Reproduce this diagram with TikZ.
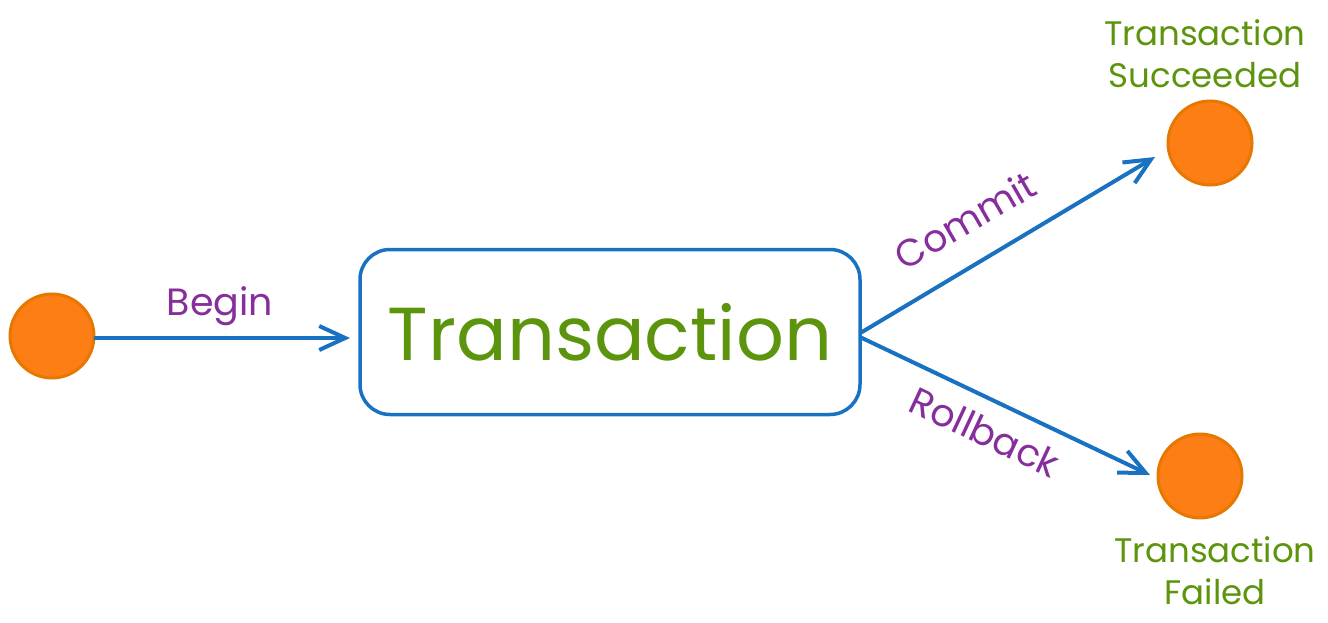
\documentclass[tikz,border=0pt]{standalone}
\usepackage{fontspec}
\setmainfont{Poppins}
\usetikzlibrary{arrows.meta}
\definecolor{eblue}{HTML}{1971C2}
\definecolor{eorange}{HTML}{FD7E14}
\definecolor{eorangedark}{HTML}{E67700}
\definecolor{egreen}{HTML}{5C940D}
\definecolor{egrape}{HTML}{862E9C}
\tikzset{
  state/.style={circle, fill=eorange, draw=eorangedark, line width=3pt, minimum size=84pt, inner sep=0pt},
  mainbox/.style={draw=eblue, line width=3.5pt, rounded corners=30pt, minimum width=500pt, minimum height=165pt, inner sep=0pt,
    text=egreen, font=\fontsize{75}{79}\selectfont},
  flow/.style={draw=eblue, line width=4pt, line cap=round, -{Straight Barb[length=26pt,width=24pt,line width=4pt]}},
  edgelabel/.style={text=egrape, font=\fontsize{38}{42}\selectfont, inner sep=0pt},
  statelabel/.style={text=egreen, font=\fontsize{34}{42}\selectfont, align=center, inner sep=0pt}
}
\begin{document}
\begin{tikzpicture}[x=1pt,y=-1pt]
\useasboundingbox (0,0) rectangle (1328,623);
\node[state] (start) at (52,336) {};
\node[mainbox] (tx) at (610,332) {Transaction};
\node[state] (ok) at (1210,143) {};
\node[state] (fail) at (1200,476) {};
\coordinate (cstart) at (862,332);
\coordinate (rstart) at (862,338);
\coordinate (cend) at (1155,157);
\coordinate (rend) at (1150,475);
\coordinate (bend) at (350,338);
\draw[flow] (start.east |- bend) -- (bend);
\draw[flow] (cstart) -- (cend);
\draw[flow] (rstart) -- (rend);
\node[edgelabel] (lbegin) at (220,306) {Begin};
\node[edgelabel, rotate=30] (lcommit) at (965,220) {Commit};
\node[edgelabel, rotate=-25] (lroll) at (985,432) {Rollback};
\node[statelabel] (tok) at (1205,54) {Transaction\\Succeeded};
\node[statelabel] (tfail) at (1215,571) {Transaction\\Failed};
\end{tikzpicture}
\end{document}
